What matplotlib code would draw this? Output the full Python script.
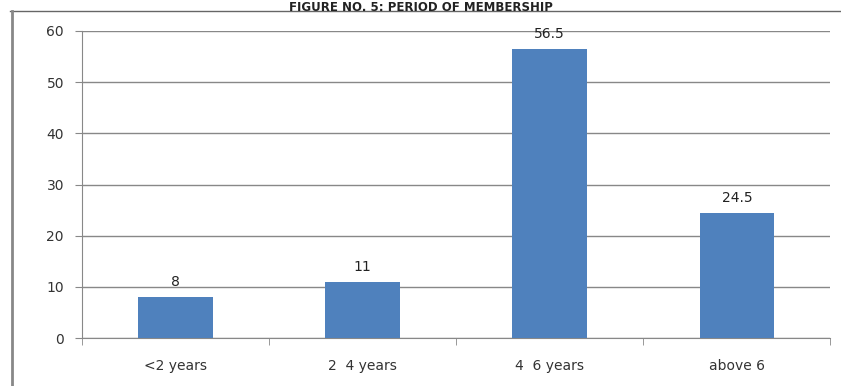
import matplotlib
matplotlib.use('Agg')
import matplotlib.pyplot as plt
from matplotlib.lines import Line2D

# 数据
categories = ['<2 years', '2  4 years', '4  6 years', 'above 6']
values = [8, 11, 56.5, 24.5]
yticks = [0, 10, 20, 30, 40, 50, 60]

plt.rcParams['font.family'] = ['DejaVu Sans']

fig = plt.figure(figsize=(8.41, 3.86), dpi=100)
ax = fig.add_axes([0.0975, 0.124, 0.890, 0.796])

x = list(range(len(categories)))
ax.bar(x, values, width=0.4, color='#4F81BD', zorder=3)

for xi, v in zip(x, values):
    ax.text(xi, v + 1.5, f'{v:g}', ha='center', va='bottom', fontsize=10, color='#222222')

ax.set_xlim(-0.5, len(categories) - 0.5)
ax.set_ylim(0, 60)
ax.set_yticks(yticks)
ax.set_xticks(x)
ax.set_xticklabels(categories, fontsize=10, color='#333333')
ax.tick_params(axis='y', labelsize=10, colors='#333333', length=5, color='#888888', pad=8)
ax.tick_params(axis='x', length=0, pad=15)
# category boundary ticks
ax.set_xticks([i - 0.5 for i in range(len(categories) + 1)], minor=True)
ax.tick_params(axis='x', which='minor', length=5, color='#888888')

ax.grid(axis='y', color='#888888', linewidth=1, zorder=0)
for s in ['top', 'right']:
    ax.spines[s].set_visible(False)
ax.spines['left'].set_color('#888888')
ax.spines['bottom'].set_color('#888888')

# chart box border and title strip above it
fig.add_artist(Line2D([0.012, 1.0], [0.972, 0.972], color='#666666', linewidth=1))
fig.add_artist(Line2D([0.014, 0.014], [0.0, 0.972], color='#888888', linewidth=2))
fig.text(0.5, 0.997, 'FIGURE NO. 5: PERIOD OF MEMBERSHIP', ha='center', va='top',
         fontsize=8.5, fontweight='bold', color='#222222')

fig.savefig('out.png', dpi=100)
